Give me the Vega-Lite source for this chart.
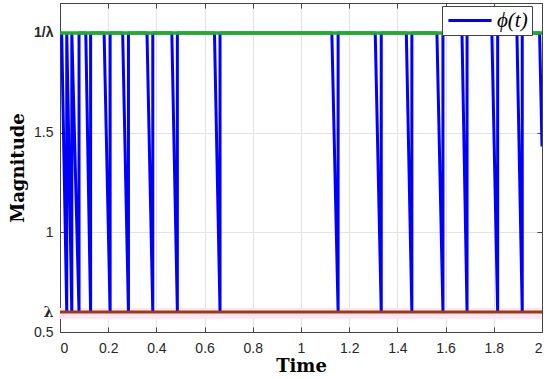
{
  "$schema": "https://vega.github.io/schema/vega-lite/v6.json",
  "width": 482,
  "height": 329,
  "autosize": "none",
  "padding": {"left": 60, "top": 3, "right": 8, "bottom": 47},
  "background": "white",
  "config": {
    "view": {"stroke": "#444444", "strokeWidth": 1},
    "axis": {
      "labelFont": "Liberation Sans",
      "labelFontSize": 14,
      "labelColor": "#262626",
      "domainColor": "#444444",
      "tickColor": "#444444",
      "tickSize": -5,
      "gridColor": "#e3e3e3",
      "gridWidth": 1,
      "titleFont": "DejaVu Serif",
      "titleFontWeight": "bold",
      "titleFontSize": 18,
      "titleColor": "black"
    }
  },
  "datasets": {
    "phi": [
      {"i": 0, "t": 0.0, "v": 2.0, "series": "ϕ(t)"},
      {"i": 1, "t": 0.007, "v": 2.0, "series": "ϕ(t)"},
      {"i": 2, "t": 0.028, "v": 0.6, "series": "ϕ(t)"},
      {"i": 3, "t": 0.028, "v": 2.0, "series": "ϕ(t)"},
      {"i": 4, "t": 0.049, "v": 0.6, "series": "ϕ(t)"},
      {"i": 5, "t": 0.049, "v": 2.0, "series": "ϕ(t)"},
      {"i": 6, "t": 0.079, "v": 0.6, "series": "ϕ(t)"},
      {"i": 7, "t": 0.079, "v": 2.0, "series": "ϕ(t)"},
      {"i": 8, "t": 0.107, "v": 2.0, "series": "ϕ(t)"},
      {"i": 9, "t": 0.127, "v": 0.6, "series": "ϕ(t)"},
      {"i": 10, "t": 0.127, "v": 2.0, "series": "ϕ(t)"},
      {"i": 11, "t": 0.183, "v": 2.0, "series": "ϕ(t)"},
      {"i": 12, "t": 0.208, "v": 0.6, "series": "ϕ(t)"},
      {"i": 13, "t": 0.208, "v": 2.0, "series": "ϕ(t)"},
      {"i": 14, "t": 0.26, "v": 2.0, "series": "ϕ(t)"},
      {"i": 15, "t": 0.284, "v": 0.6, "series": "ϕ(t)"},
      {"i": 16, "t": 0.284, "v": 2.0, "series": "ϕ(t)"},
      {"i": 17, "t": 0.361, "v": 2.0, "series": "ϕ(t)"},
      {"i": 18, "t": 0.385, "v": 0.6, "series": "ϕ(t)"},
      {"i": 19, "t": 0.385, "v": 2.0, "series": "ϕ(t)"},
      {"i": 20, "t": 0.464, "v": 2.0, "series": "ϕ(t)"},
      {"i": 21, "t": 0.487, "v": 0.6, "series": "ϕ(t)"},
      {"i": 22, "t": 0.487, "v": 2.0, "series": "ϕ(t)"},
      {"i": 23, "t": 0.641, "v": 2.0, "series": "ϕ(t)"},
      {"i": 24, "t": 0.664, "v": 0.6, "series": "ϕ(t)"},
      {"i": 25, "t": 0.664, "v": 2.0, "series": "ϕ(t)"},
      {"i": 26, "t": 1.128, "v": 2.0, "series": "ϕ(t)"},
      {"i": 27, "t": 1.154, "v": 0.6, "series": "ϕ(t)"},
      {"i": 28, "t": 1.154, "v": 2.0, "series": "ϕ(t)"},
      {"i": 29, "t": 1.308, "v": 2.0, "series": "ϕ(t)"},
      {"i": 30, "t": 1.333, "v": 0.6, "series": "ϕ(t)"},
      {"i": 31, "t": 1.333, "v": 2.0, "series": "ϕ(t)"},
      {"i": 32, "t": 1.437, "v": 2.0, "series": "ϕ(t)"},
      {"i": 33, "t": 1.46, "v": 0.6, "series": "ϕ(t)"},
      {"i": 34, "t": 1.46, "v": 2.0, "series": "ϕ(t)"},
      {"i": 35, "t": 1.564, "v": 2.0, "series": "ϕ(t)"},
      {"i": 36, "t": 1.589, "v": 0.6, "series": "ϕ(t)"},
      {"i": 37, "t": 1.589, "v": 2.0, "series": "ϕ(t)"},
      {"i": 38, "t": 1.668, "v": 2.0, "series": "ϕ(t)"},
      {"i": 39, "t": 1.689, "v": 0.6, "series": "ϕ(t)"},
      {"i": 40, "t": 1.689, "v": 2.0, "series": "ϕ(t)"},
      {"i": 41, "t": 1.792, "v": 2.0, "series": "ϕ(t)"},
      {"i": 42, "t": 1.816, "v": 0.6, "series": "ϕ(t)"},
      {"i": 43, "t": 1.816, "v": 2.0, "series": "ϕ(t)"},
      {"i": 44, "t": 1.896, "v": 2.0, "series": "ϕ(t)"},
      {"i": 45, "t": 1.918, "v": 0.6, "series": "ϕ(t)"},
      {"i": 46, "t": 1.918, "v": 2.0, "series": "ϕ(t)"},
      {"i": 47, "t": 1.99, "v": 2.0, "series": "ϕ(t)"},
      {"i": 48, "t": 2.0, "v": 1.43, "series": "ϕ(t)"}
    ]
  },
  "layer": [
    {
      "data": {"values": [{"v": 0.565, "v2": 0.62}]},
      "mark": {"type": "rect", "color": "#ffe4f2"},
      "encoding": {
        "y": {"field": "v", "type": "quantitative", "scale": {"domain": [0.5, 2.15], "nice": false, "zero": false}, "axis": null},
        "y2": {"field": "v2"}
      }
    },
    {
      "data": {"name": "phi"},
      "mark": {"type": "line", "strokeWidth": 3, "strokeJoin": "bevel", "clip": true},
      "encoding": {
        "x": {
          "field": "t", "type": "quantitative",
          "scale": {"domain": [0, 2], "nice": false, "zero": false},
          "axis": {"title": "Time", "values": [0, 0.2, 0.4, 0.6, 0.8, 1, 1.2, 1.4, 1.6, 1.8, 2], "format": "~g", "labelPadding": 14, "titlePadding": 2, "grid": true}
        },
        "y": {
          "field": "v", "type": "quantitative",
          "scale": {"domain": [0.5, 2.15], "nice": false, "zero": false},
          "axis": {
            "title": "Magnitude",
            "values": [0.5, 0.6, 1, 1.5, 2],
            "labelExpr": "datum.value == 0.6 ? 'λ' : (datum.value == 2 ? '1/λ' : format(datum.value, '~g'))",
            "labelFontWeight": {"condition": {"test": "datum.value == 0.6 || datum.value == 2", "value": "bold"}, "value": "normal"},
            "labelFont": {"condition": {"test": "datum.value == 0.6", "value": "DejaVu Serif"}, "value": "Liberation Sans"},
            "labelPadding": 12,
            "titlePadding": 6,
            "grid": true
          }
        },
        "order": {"field": "i", "type": "quantitative"},
        "color": {
          "field": "series", "type": "nominal",
          "scale": {"range": ["#0000ff"]},
          "legend": {
            "title": null,
            "orient": "none",
            "legendX": 382,
            "legendY": 3,
            "fillColor": "white",
            "strokeColor": "#444444",
            "padding": 4,
            "symbolType": "M-0.9,0H3.9",
            "symbolSize": 324,
            "symbolStrokeWidth": 3,
            "labelFont": "Liberation Serif",
            "labelFontStyle": "italic",
            "labelFontSize": 21,
            "labelColor": "black",
            "labelOffset": 30,
            "labelLimit": 200
          }
        }
      }
    },
    {
      "data": {"values": [{"v": 2.0}]},
      "mark": {"type": "rule", "color": "#1fb01f", "strokeWidth": 3.5},
      "encoding": {"y": {"field": "v", "type": "quantitative", "axis": null}}
    },
    {
      "data": {"values": [{"v": 0.6}]},
      "mark": {"type": "rule", "color": "#9c3d10", "strokeWidth": 3},
      "encoding": {"y": {"field": "v", "type": "quantitative", "axis": null}}
    },
    {
      "data": {"values": [{"t": 0, "v": 2.0}]},
      "mark": {"type": "point", "opacity": 0},
      "encoding": {
        "x": {"field": "t", "type": "quantitative", "axis": {"orient": "top", "labels": false, "title": null, "grid": false, "values": [0, 0.2, 0.4, 0.6, 0.8, 1, 1.2, 1.4, 1.6, 1.8, 2]}},
        "y": {"field": "v", "type": "quantitative", "axis": {"orient": "right", "labels": false, "title": null, "grid": false, "values": [0.5, 0.6, 1, 1.5, 2]}}
      }
    }
  ],
  "resolve": {"axis": {"x": "independent", "y": "independent"}}
}
